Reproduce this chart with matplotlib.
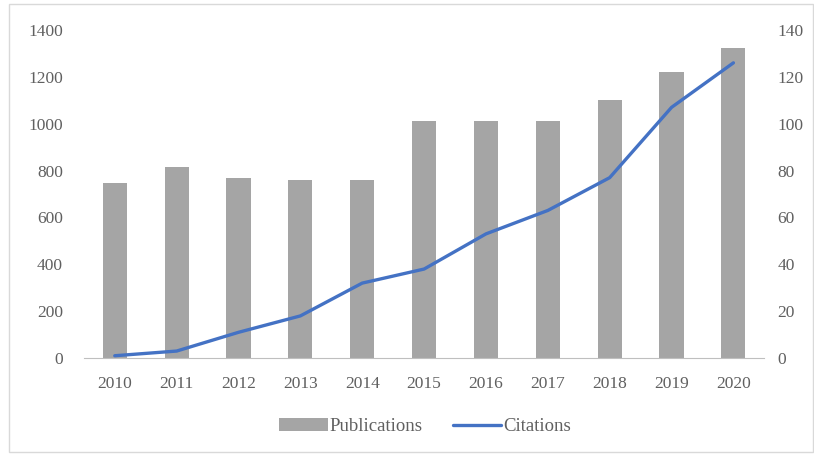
import matplotlib.pyplot as plt
from matplotlib.patches import Rectangle
import numpy as np

years = ['2010', '2011', '2012', '2013', '2014', '2015', '2016', '2017', '2018', '2019', '2020']
publications = [748, 815, 768, 760, 760, 1011, 1011, 1011, 1101, 1220, 1323]
citations = [1, 3, 11, 18, 32, 38, 53, 63, 77, 107, 126]

plt.rcParams['font.family'] = 'Liberation Serif'
plt.rcParams['font.size'] = 12.5

fig = plt.figure(figsize=(8.14, 4.55), dpi=100)
fig.patches.append(Rectangle((0.011, 0.006), 0.988, 0.985, transform=fig.transFigure,
                             fill=False, edgecolor='#d9d9d9', linewidth=1))

ax = fig.add_axes([0.103, 0.213, 0.836, 0.721])
x = np.arange(len(years))
bars = ax.bar(x, publications, width=0.39, color='#a5a5a5', label='Publications', zorder=2)
ax.set_ylim(0, 1400)
ax.set_yticks(range(0, 1401, 200))
ax.set_xlim(-0.5, len(years) - 0.5)
ax.set_xticks(x)
ax.set_xticklabels(years)

ax2 = ax.twinx()
line, = ax2.plot(x, citations, color='#4472c4', linewidth=2.4, label='Citations',
                 solid_capstyle='round', zorder=3)
ax2.set_ylim(0, 140)
ax2.set_yticks(range(0, 141, 20))

for a in (ax, ax2):
    for s in ('top', 'left', 'right'):
        a.spines[s].set_visible(False)
    a.tick_params(length=0, colors='#606060', labelsize=12.5)
ax.spines['bottom'].set_color('#bfbfbf')
ax2.spines['bottom'].set_visible(False)
ax.tick_params(axis='y', pad=15)
ax.tick_params(axis='x', pad=13)
ax2.tick_params(axis='y', pad=9.5)

fig.legend([bars, line], ['Publications', 'Citations'], loc='center',
           bbox_to_anchor=(0.522, 0.062), ncol=2, frameon=False,
           handlelength=2.6, columnspacing=1.6, handletextpad=0.1,
           labelcolor='#606060', fontsize=13.5)

fig.savefig('out.png', dpi=100)
